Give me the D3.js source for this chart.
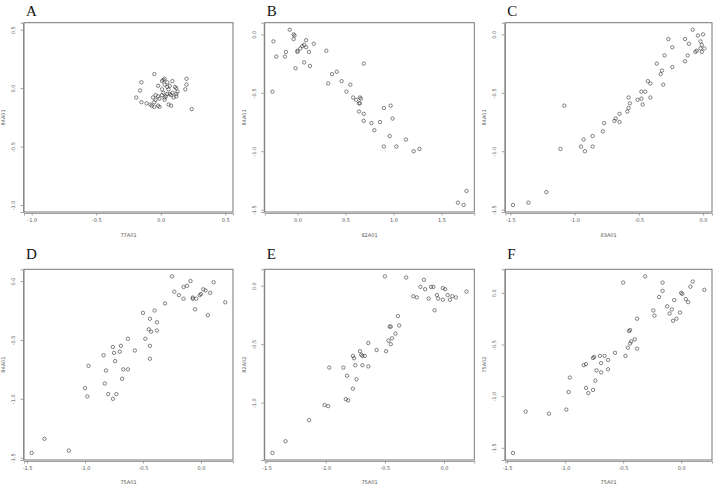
<!DOCTYPE html>
<html>
<head>
<meta charset="utf-8">
<script src="https://cdn.jsdelivr.net/npm/d3@7"></script>
<style>
  body { margin: 0; background: #fff; }
  svg { display: block; }
</style>
</head>
<body>
<div id="chart"></div>
<script>
'use strict';

// scatter panels, values
var ptsA = [
  [-0.05, 0.12], [-0.15, 0.05], [-0.16, -0.02], [-0.19, -0.08], [-0.15, -0.12],
  [-0.11, -0.13], [-0.08, -0.14], [-0.07, -0.15], [-0.05, -0.16], [-0.05, -0.12],
  [-0.04, -0.10], [-0.06, -0.08], [-0.04, -0.06], [-0.02, -0.07], [0.01, -0.06],
  [0.02, -0.04], [0.01, -0.01], [-0.02, 0.02], [0.01, 0.06], [0.02, 0.07],
  [0.03, 0.08], [0.05, 0.05], [0.09, 0.06], [0.03, 0.03], [0.05, 0.01],
  [0.07, 0.02], [0.06, -0.01], [0.11, 0.01], [0.12, 0.00], [0.07, -0.05],
  [0.08, -0.06], [0.10, -0.08], [0.12, -0.05], [0.13, -0.03], [0.05, -0.05],
  [0.04, -0.07], [0.03, -0.10], [-0.01, -0.09], [-0.02, -0.15], [-0.01, -0.16],
  [0.06, -0.14], [0.08, -0.15], [0.19, -0.01], [0.20, 0.08], [0.20, 0.03],
  [0.24, -0.18], [0.12, -0.07], [0.09, -0.04], [0.03, -0.08]
];

var ptsB = [
  [-0.08, 0.04], [-0.25, -0.06], [-0.04, 0.00], [-0.04, -0.04], [-0.03, -0.01],
  [-0.22, -0.19], [-0.12, -0.15], [-0.13, -0.19], [-0.02, -0.29], [0.00, -0.15],
  [0.00, -0.14], [0.03, -0.12], [0.05, -0.10], [0.07, -0.09], [0.09, -0.11],
  [0.09, -0.05], [0.12, -0.15], [0.07, -0.24], [0.13, -0.27], [0.17, -0.08],
  [0.30, -0.14], [0.41, -0.32], [0.36, -0.34], [0.32, -0.42], [0.46, -0.40],
  [0.55, -0.43], [0.51, -0.49], [0.58, -0.54], [0.61, -0.56], [0.65, -0.54],
  [0.66, -0.55], [0.64, -0.59], [0.65, -0.59], [0.64, -0.66], [0.69, -0.68],
  [0.69, -0.74], [0.69, -0.25], [0.77, -0.76], [0.80, -0.82], [0.86, -0.75],
  [0.90, -0.63], [0.97, -0.61], [0.99, -0.72], [0.96, -0.87], [0.90, -0.96],
  [1.03, -0.96], [1.13, -0.90], [1.21, -1.00], [1.27, -0.98], [-0.26, -0.49],
  [1.67, -1.44], [1.73, -1.46], [1.76, -1.34]
];

var ptsC = [
  [-1.48, -1.46], [-1.36, -1.44], [-1.22, -1.35], [-1.11, -0.98], [-1.08, -0.61],
  [-0.95, -0.96], [-0.93, -0.90], [-0.92, -1.00], [-0.86, -0.87], [-0.86, -0.96],
  [-0.78, -0.83], [-0.77, -0.76], [-0.69, -0.74], [-0.68, -0.72], [-0.65, -0.75],
  [-0.65, -0.68], [-0.59, -0.66], [-0.58, -0.63], [-0.57, -0.59], [-0.58, -0.54],
  [-0.51, -0.56], [-0.48, -0.49], [-0.48, -0.55], [-0.47, -0.60], [-0.45, -0.49],
  [-0.43, -0.40], [-0.41, -0.42], [-0.41, -0.54], [-0.36, -0.25], [-0.33, -0.34],
  [-0.32, -0.31], [-0.31, -0.43], [-0.30, -0.18], [-0.27, -0.04], [-0.24, -0.11],
  [-0.24, -0.28], [-0.14, -0.04], [-0.14, -0.23], [-0.12, -0.18], [-0.11, -0.08],
  [-0.08, 0.04], [-0.06, -0.15], [-0.05, -0.14], [-0.04, -0.01], [-0.02, -0.06],
  [-0.01, -0.15], [-0.01, -0.09], [0.00, 0.00], [0.01, -0.12], [-0.02, -0.12]
];

var ptsD = [
  [-1.46, -1.46], [-1.35, -1.34], [-1.14, -1.44], [-1.00, -0.91], [-0.98, -0.98],
  [-0.97, -0.72], [-0.84, -0.63], [-0.76, -0.56], [-0.75, -0.61], [-0.74, -0.68],
  [-0.82, -0.76], [-0.83, -0.87], [-0.80, -0.96], [-0.76, -1.00], [-0.73, -0.96],
  [-0.70, -0.60], [-0.69, -0.55], [-0.68, -0.83], [-0.67, -0.75], [-0.63, -0.75],
  [-0.63, -0.49], [-0.57, -0.59], [-0.50, -0.27], [-0.48, -0.49], [-0.45, -0.41],
  [-0.44, -0.55], [-0.44, -0.32], [-0.44, -0.66], [-0.43, -0.43], [-0.40, -0.25],
  [-0.38, -0.35], [-0.38, -0.42], [-0.31, -0.19], [-0.25, 0.04], [-0.23, -0.09],
  [-0.19, -0.12], [-0.15, -0.05], [-0.15, -0.15], [-0.12, -0.04], [-0.09, 0.00],
  [-0.07, -0.15], [-0.07, -0.14], [-0.05, -0.24], [-0.04, -0.15], [-0.01, -0.12],
  [0.00, -0.11], [0.02, -0.07], [0.04, -0.08], [0.06, -0.29], [0.08, -0.10],
  [0.11, -0.01], [0.21, -0.18]
];

var ptsE = [
  [-1.45, -1.43], [-1.34, -1.33], [-1.14, -1.15], [-1.01, -1.02], [-0.98, -1.03],
  [-0.97, -0.70], [-0.85, -0.70], [-0.83, -0.97], [-0.82, -0.77], [-0.81, -0.98],
  [-0.77, -0.88], [-0.77, -0.60], [-0.76, -0.62], [-0.75, -0.68], [-0.74, -0.80],
  [-0.71, -0.56], [-0.70, -0.59], [-0.69, -0.60], [-0.69, -0.68], [-0.67, -0.60],
  [-0.64, -0.69], [-0.64, -0.49], [-0.57, -0.55], [-0.50, 0.08], [-0.49, -0.56],
  [-0.47, -0.47], [-0.46, -0.35], [-0.45, -0.35], [-0.45, -0.50], [-0.44, -0.45],
  [-0.41, -0.41], [-0.39, -0.26], [-0.38, -0.34], [-0.32, 0.07], [-0.26, -0.09],
  [-0.23, -0.10], [-0.20, -0.01], [-0.17, 0.05], [-0.16, -0.03], [-0.13, -0.11],
  [-0.11, -0.01], [-0.09, -0.01], [-0.08, -0.21], [-0.06, -0.08], [-0.05, -0.11],
  [-0.01, -0.12], [-0.01, -0.02], [0.01, -0.03], [0.03, -0.08], [0.05, -0.12],
  [0.07, -0.09], [0.10, -0.10], [0.19, -0.05]
];

var ptsF = [
  [-1.45, -1.55], [-1.34, -1.15], [-1.14, -1.17], [-0.99, -1.13], [-0.97, -0.96],
  [-0.96, -0.82], [-0.84, -0.70], [-0.82, -0.69], [-0.82, -0.92], [-0.80, -0.97],
  [-0.76, -0.94], [-0.76, -0.63], [-0.75, -0.62], [-0.74, -0.85], [-0.73, -0.75],
  [-0.70, -0.61], [-0.69, -0.77], [-0.69, -0.68], [-0.66, -0.61], [-0.63, -0.65],
  [-0.63, -0.74], [-0.57, -0.58], [-0.50, 0.10], [-0.48, -0.61], [-0.46, -0.53],
  [-0.45, -0.37], [-0.44, -0.36], [-0.44, -0.49], [-0.43, -0.47], [-0.40, -0.45],
  [-0.38, -0.54], [-0.38, -0.25], [-0.31, 0.16], [-0.24, -0.17], [-0.23, -0.22],
  [-0.19, -0.04], [-0.16, 0.10], [-0.16, 0.02], [-0.12, -0.13], [-0.10, -0.20],
  [-0.08, -0.16], [-0.07, -0.27], [-0.06, -0.07], [-0.04, -0.25], [0.00, 0.00],
  [-0.01, -0.19], [0.01, -0.01], [0.04, -0.06], [0.06, -0.09], [0.08, 0.06],
  [0.10, 0.11], [0.20, 0.03]
];

var letters = ['A', 'B', 'C', 'D', 'E', 'F'];
var xTitles = ['77A01', '82A01', '83A01', '75A01', '75A01', '75A01'];
var yTitles = ['84A01', '84A01', '84A01', '84A01', '82A02', '75A02'];
var xTicks = [
  ['-1.0', '-0.5', '0.0', '0.5'],
  ['0.0', '0.5', '1.0', '1.5'],
  ['-1.5', '-1.0', '-0.5', '0.0'],
  ['-1.5', '-1.0', '-0.5', '0.0'],
  ['-1.5', '-1.0', '-0.5', '0.0'],
  ['-1.5', '-1.0', '-0.5', '0.0']
];
var yTicks = [
  ['0.5', '0.0', '-0.5', '-1.0'],
  ['0.0', '-0.5', '-1.0', '-1.5'],
  ['0.0', '-0.5', '-1.0', '-1.5'],
  ['0.0', '-0.5', '-1.0', '-1.5'],
  ['0.0', '-0.5', '-1.0'],
  ['0.0', '-0.5', '-1.0', '-1.5']
];
var panels = [ptsA, ptsB, ptsC, ptsD, ptsE, ptsF];

var width = 716, height = 485;
var cols = [[24, 233], [264.7, 474.3], [505.3, 712]];
var rows = [[22.7, 212], [269.3, 460]];

var svg = d3.select('#chart')
  .append('svg')
  .attr('width', width)
  .attr('height', height);

// R style: data range padded by 4%
function padded (ext) {
  var d = (ext[1] - ext[0]) * 0.04;
  return [ext[0] - d, ext[1] + d];
}

panels.forEach(function (pts, i) {
  var c = cols[i % 3], r = rows[Math.floor(i / 3)];
  var xd = i === 0 ? [-1, 0.5] : d3.extent(pts, function (d) { return d[0]; });
  var yd = i === 0 ? [-1, 0.5] : d3.extent(pts, function (d) { return d[1]; });

  var x = d3.scaleLinear().domain(padded(xd)).range(c);
  var y = d3.scaleLinear().domain(padded(yd)).range([r[1], r[0]]);

  var g = svg.append('g');

  g.append('text')
    .attr('x', c[0] + 2)
    .attr('y', i < 3 ? 16 : 258.5)
    .style('font-family', '"Liberation Serif", "DejaVu Serif", serif')
    .style('font-size', '15px')
    .style('fill', '#111')
    .text(letters[i]);

  var xAxis = d3.axisBottom(x)
    .tickValues(xTicks[i].map(Number))
    .tickFormat(function (d, k) { return xTicks[i][k]; })
    .tickSize(2.5)
    .tickPadding(3);
  var yAxis = d3.axisLeft(y)
    .tickValues(yTicks[i].map(Number))
    .tickFormat(function (d, k) { return yTicks[i][k]; })
    .tickSize(2.5)
    .tickPadding(3);

  var gx = g.append('g')
    .attr('transform', 'translate(0,' + (r[1] + 1) + ')')
    .call(xAxis);
  var gy = g.append('g')
    .attr('transform', 'translate(' + (c[0] - 1) + ',0)')
    .call(yAxis);

  [gx, gy].forEach(function (a) {
    a.select('.domain').attr('stroke', '#888').attr('stroke-width', 0.8);
    a.selectAll('.tick line').attr('stroke', '#888').attr('stroke-width', 0.8);
    a.selectAll('.tick text')
      .style('font-family', '"DejaVu Sans", sans-serif')
      .style('font-size', '5px')
      .style('fill', '#555');
  });
  gy.selectAll('.tick text')
    .attr('x', null)
    .attr('dy', null)
    .attr('text-anchor', 'middle')
    .attr('transform', 'translate(-8,0) rotate(-90)');

  g.append('rect')
    .attr('x', c[0])
    .attr('y', r[0])
    .attr('width', c[1] - c[0])
    .attr('height', r[1] - r[0])
    .attr('fill', 'none')
    .attr('stroke', '#777')
    .attr('stroke-width', 1);

  g.append('text')
    .attr('x', (c[0] + c[1]) / 2)
    .attr('y', r[1] + (i < 3 ? 24.5 : 23.5))
    .attr('text-anchor', 'middle')
    .style('font-family', '"DejaVu Sans", sans-serif')
    .style('font-size', '5px')
    .style('fill', '#555')
    .text(xTitles[i]);

  g.append('text')
    .attr('transform', 'translate(' + (c[0] - 19) + ',' + ((r[0] + r[1]) / 2) + ') rotate(-90)')
    .attr('text-anchor', 'middle')
    .style('font-family', '"DejaVu Sans", sans-serif')
    .style('font-size', '5px')
    .style('fill', '#555')
    .text(yTitles[i]);

  g.selectAll('circle')
    .data(pts)
    .enter()
    .append('circle')
    .attr('cx', function (d) { return x(d[0]); })
    .attr('cy', function (d) { return y(d[1]); })
    .attr('r', 1.7)
    .attr('fill', 'none')
    .attr('stroke', '#333')
    .attr('stroke-width', 0.6);
});
</script>
</body>
</html>
